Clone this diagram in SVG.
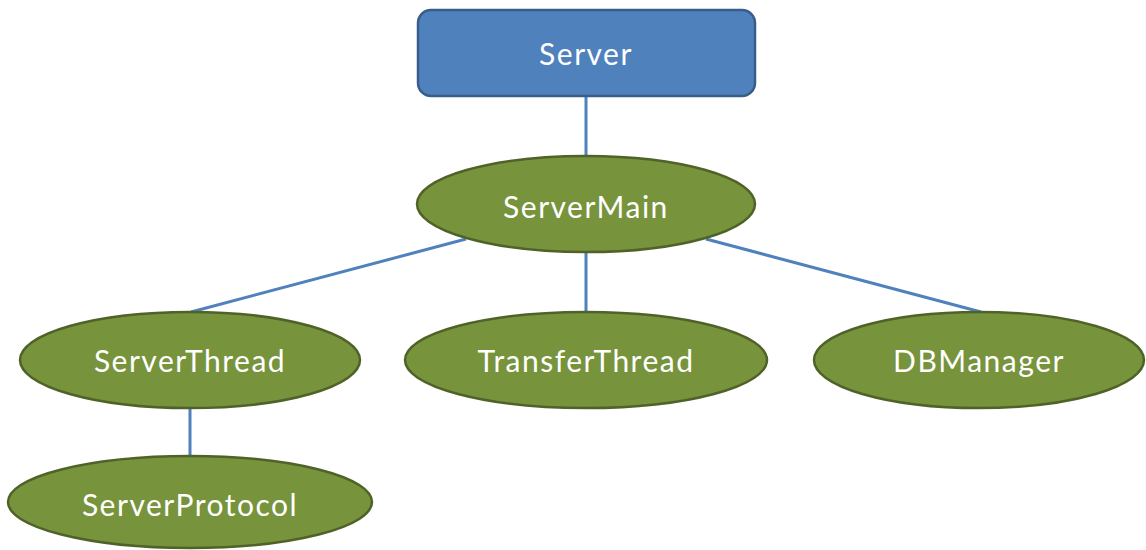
<svg xmlns="http://www.w3.org/2000/svg" width="1146" height="550" viewBox="0 0 1146 550">
<style>
.edge{stroke:#4F81BD;stroke-width:3;fill:none}
.oval{fill:#77933C;stroke:#4F6228;stroke-width:2.5}
.box{fill:#4F81BD;stroke:#385D8A;stroke-width:2.5}
.lbl{font-family:Lato,"Open Sans",sans-serif;font-size:30px;letter-spacing:1.5px;fill:#FFFFFF;text-anchor:middle;dominant-baseline:central}
</style>
<rect width="1146" height="550" fill="#FFFFFF"/>
<g id="connectors">
<line class="edge" x1="586" y1="96" x2="586" y2="156"/>
<line class="edge" x1="466" y1="239" x2="191" y2="312"/>
<line class="edge" x1="586" y1="252" x2="586" y2="312"/>
<line class="edge" x1="706" y1="239" x2="981" y2="312"/>
<line class="edge" x1="190" y1="408" x2="190" y2="455"/>
</g>
<g id="server">
<rect class="box" x="418" y="10" width="337" height="86" rx="13"/>
<text class="lbl" x="586" y="53">Server</text>
</g>
<g id="servermain">
<ellipse class="oval" cx="586" cy="204" rx="169" ry="48"/>
<text class="lbl" x="586" y="206">ServerMain</text>
</g>
<g id="serverthread">
<ellipse class="oval" cx="190" cy="360" rx="170" ry="48"/>
<text class="lbl" x="190" y="360">ServerThread</text>
</g>
<g id="transferthread">
<ellipse class="oval" cx="586" cy="360" rx="181" ry="48"/>
<text class="lbl" x="586" y="360">TransferThread</text>
</g>
<g id="dbmanager">
<ellipse class="oval" cx="979" cy="360" rx="165" ry="48"/>
<text class="lbl" x="979" y="360">DBManager</text>
</g>
<g id="serverprotocol">
<ellipse class="oval" cx="190" cy="502" rx="182" ry="46"/>
<text class="lbl" x="190" y="504">ServerProtocol</text>
</g>
</svg>
